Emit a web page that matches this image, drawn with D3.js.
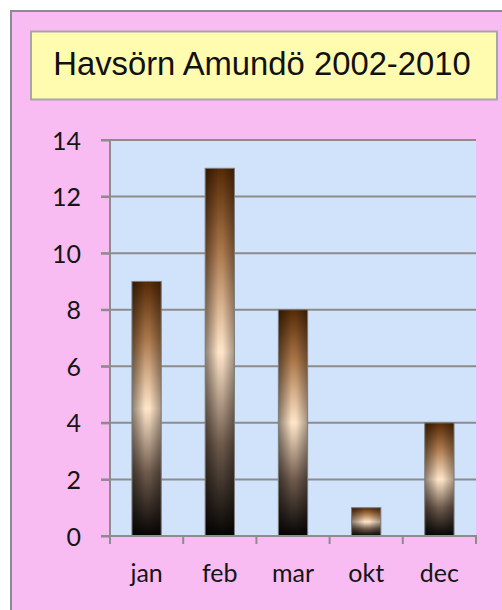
<!DOCTYPE html>
<html><head><meta charset="utf-8">
<script src="https://cdn.jsdelivr.net/npm/d3@7"></script>
<style>html,body{margin:0;padding:0;background:#fff;}svg{display:block;}</style>
</head><body>
<script>
const categories = ["jan","feb","mar","okt","dec"];
const values = [9, 13, 8, 1, 4];
const yTicks = [0,2,4,6,8,10,12,14];
const title = "Havsörn Amundö 2002-2010";

const W = 502, H = 610;
const svg = d3.select("body").append("svg").attr("width", W).attr("height", H);
const defs = svg.append("defs");
const vg = defs.append("linearGradient").attr("id","vg").attr("x1",0).attr("y1",0).attr("x2",0).attr("y2",1);
[[0,"#552a06"],[0.22,"#a87548"],[0.5,"#ffe5c9"],[0.75,"#6e5a4c"],[1,"#050403"]].forEach(s=>vg.append("stop").attr("offset",s[0]).attr("stop-color",s[1]));
const hg = defs.append("linearGradient").attr("id","hg").attr("x1",0).attr("y1",0).attr("x2",1).attr("y2",0);
[[0,0.45],[0.45,0],[0.6,0],[1,0.35]].forEach(s=>hg.append("stop").attr("offset",s[0]).attr("stop-color","#000").attr("stop-opacity",s[1]));

// chart frame
svg.append("rect").attr("x",11).attr("y",11).attr("width",W+20).attr("height",H+20)
  .attr("fill","#f8bcf3").attr("stroke","#8c8c8c").attr("stroke-width",2);

// title box
svg.append("rect").attr("x",31).attr("y",31.5).attr("width",466).attr("height",68)
  .attr("fill","#fffcb0").attr("stroke","#a6a6a6").attr("stroke-width",2);
svg.append("text").attr("x",262).attr("y",74.5).attr("text-anchor","middle")
  .attr("font-family","Liberation Sans, Arial, sans-serif").attr("font-size",32.8).attr("fill","#111")
  .text(title);

const m = {l:110, t:140, r:476, b:536};
const x = d3.scaleBand().domain(categories).range([m.l, m.r]).paddingInner(0.6).paddingOuter(0.3);
const xb = d3.scaleBand().domain(categories).range([m.l, m.r]);
const y = d3.scaleLinear().domain([0,14]).range([m.b, m.t]);

svg.append("rect").attr("x",m.l).attr("y",m.t).attr("width",m.r-m.l).attr("height",m.b-m.t).attr("fill","#d1e3fa");

// grid
svg.append("g").selectAll("line").data(yTicks.filter(d=>d>0)).join("line")
  .attr("x1",m.l-9).attr("x2",m.r).attr("y1",d=>y(d)).attr("y2",d=>y(d))
  .attr("stroke","#8c8c8c").attr("stroke-width",2);

// bars
const bars = svg.append("g").selectAll("g").data(categories).join("g");
bars.append("rect").attr("x",d=>x(d)).attr("width",x.bandwidth())
  .attr("y",(d,i)=>y(values[i])).attr("height",(d,i)=>y(0)-y(values[i])).attr("fill","url(#vg)");
bars.append("rect").attr("x",d=>x(d)).attr("width",x.bandwidth())
  .attr("y",(d,i)=>y(values[i])).attr("height",(d,i)=>y(0)-y(values[i])).attr("fill","url(#hg)")
  .attr("stroke","#7d7d7d").attr("stroke-width",1);

// y axis
const ya = svg.append("g").attr("transform",`translate(${m.l},0)`)
  .call(d3.axisLeft(y).tickValues(yTicks).tickSize(9).tickPadding(20).tickFormat(d3.format("d")));
ya.select(".domain").attr("stroke","#8c8c8c").attr("stroke-width",2).attr("d",`M0,${m.t}V${m.b}`);
ya.selectAll(".tick line").attr("stroke","#8c8c8c").attr("stroke-width",2);
ya.selectAll(".tick text").attr("font-family","Lato, sans-serif").attr("font-size",25).attr("fill","#151515").attr("dy","0.36em");

// x axis
const xa = svg.append("g").attr("transform",`translate(0,${m.b})`)
  .call(d3.axisBottom(xb).tickSize(0).tickPadding(28));
xa.select(".domain").remove();
xa.selectAll(".tick text").attr("font-family","Lato, sans-serif").attr("font-size",25).attr("fill","#151515");
const bounds = categories.map(c=>xb(c)).concat([m.r]);
svg.append("line").attr("x1",m.l-9).attr("x2",m.r+1).attr("y1",m.b).attr("y2",m.b).attr("stroke","#8c8c8c").attr("stroke-width",2);
svg.append("g").selectAll("line").data(bounds).join("line")
  .attr("x1",d=>d).attr("x2",d=>d).attr("y1",m.b).attr("y2",m.b+8)
  .attr("stroke","#8c8c8c").attr("stroke-width",2);
</script>
</body></html>
